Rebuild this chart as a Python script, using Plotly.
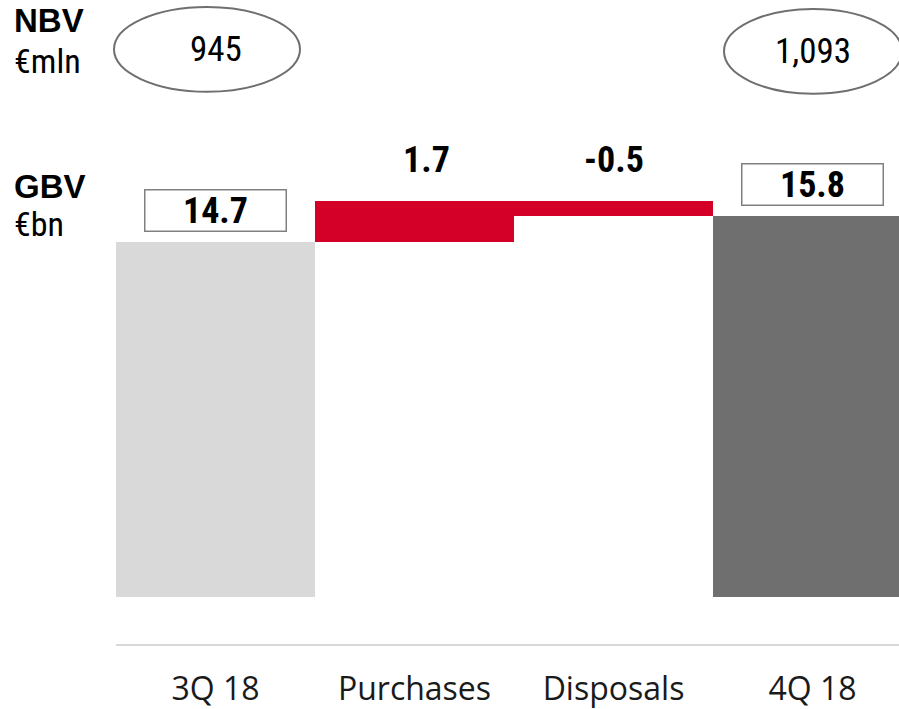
import plotly.graph_objects as go

# ---- data ----
categories = ["3Q 18", "Purchases", "Disposals", "4Q 18"]
gbv_values = [14.7, 1.7, -0.5, 15.8]          # €bn
gbv_labels = ["14.7", "1.7", "-0.5", "15.8"]
nbv_categories = ["3Q 18", "4Q 18"]
nbv_labels = ["945", "1,093"]                 # €mln

# ---- geometry helpers (layout only) ----
W, H = 899, 709
L, R, T, B = 116, 0, 0, 63
PW, PH = W - L - R, H - T - B


def px(x):
    return (x - L) / PW


def py(y):
    return (H - B - y) / PH


NUM_FONT = "Liberation Sans Narrow, Roboto Condensed, Roboto, sans-serif"
LBL_FONT = "Open Sans, sans-serif"

start = gbv_values[0]
peak = start + gbv_values[1]
end = gbv_values[3]
bases = [0, start, end, 0]
heights = [start, gbv_values[1], peak - end, end]
colors = ["#d9d9d9", "#d50027", "#d50027", "#706f6f"]

fig = go.Figure()
fig.add_bar(
    x=categories, y=heights, base=bases, width=1.0,
    marker=dict(color=colors, line=dict(width=0)),
    hoverinfo="skip", showlegend=False,
)

annotations = []
# boxed totals
for cat, val, lab in [(categories[0], start, gbv_labels[0]), (categories[3], end, gbv_labels[3])]:
    annotations.append(dict(
        x=cat, y=val, xref="x", yref="y", yanchor="bottom", yshift=10,
        text=f"<b>{lab}</b>", showarrow=False,
        font=dict(family=NUM_FONT, size=36, color="#000000"),
        bordercolor="#808080", borderwidth=1.5, borderpad=1,
        width=138, height=38, bgcolor="rgba(0,0,0,0)",
    ))
# movements
for cat, lab, xs in [(categories[1], gbv_labels[1], 12), (categories[2], gbv_labels[2], 0)]:
    annotations.append(dict(
        x=cat, y=peak, xref="x", yref="y", yanchor="bottom", yshift=18, xshift=xs,
        text=f"<b>{lab}</b>", showarrow=False,
        font=dict(family=NUM_FONT, size=36, color="#000000"),
    ))

# left titles
for txt, yc, bold in [("NBV", 21, True), ("€mln", 61, False), ("GBV", 187, True), ("€bn", 225, False)]:
    annotations.append(dict(
        x=px(12), y=py(yc), xref="paper", yref="paper", xanchor="left", yanchor="middle",
        text=f"<b>{txt}</b>" if bold else txt, showarrow=False,
        font=dict(family="Liberation Sans, Arial, sans-serif" if bold else NUM_FONT,
                  size=33 if bold else 34, color="#000000"),
    ))

shapes = []
ell = {"3Q 18": (114, 300, 7, 92), "4Q 18": (724, 902, 9, 94)}
for cat, lab in zip(nbv_categories, nbv_labels):
    x0, x1, y0, y1 = ell[cat]
    shapes.append(dict(type="circle", xref="paper", yref="paper",
                       x0=px(x0), x1=px(x1), y0=py(y1), y1=py(y0),
                       line=dict(color="#6f6f6f", width=2)))
    annotations.append(dict(
        x=cat, xref="x", y=py((y0 + y1) / 2), yref="paper", yanchor="middle",
        text=lab, showarrow=False,
        font=dict(family=NUM_FONT, size=35, color="#000000"),
    ))

fig.update_layout(
    width=W, height=H, margin=dict(l=L, r=R, t=T, b=B, pad=0),
    paper_bgcolor="white", plot_bgcolor="white",
    bargap=0, showlegend=False,
    xaxis=dict(range=[-0.5, -0.5 + PW / 199.0], showline=True, linecolor="#d9d9d9",
               linewidth=2, showgrid=False, zeroline=False, ticks="",
               ticklabelstandoff=16,
               tickfont=dict(family=LBL_FONT, size=32, color="#1a1a1a"),
               fixedrange=True),
    yaxis=dict(range=[-1.94, 24.73], visible=False, fixedrange=True),
    annotations=annotations, shapes=shapes,
)

fig.write_html("out.html", config={"displayModeBar": False})
